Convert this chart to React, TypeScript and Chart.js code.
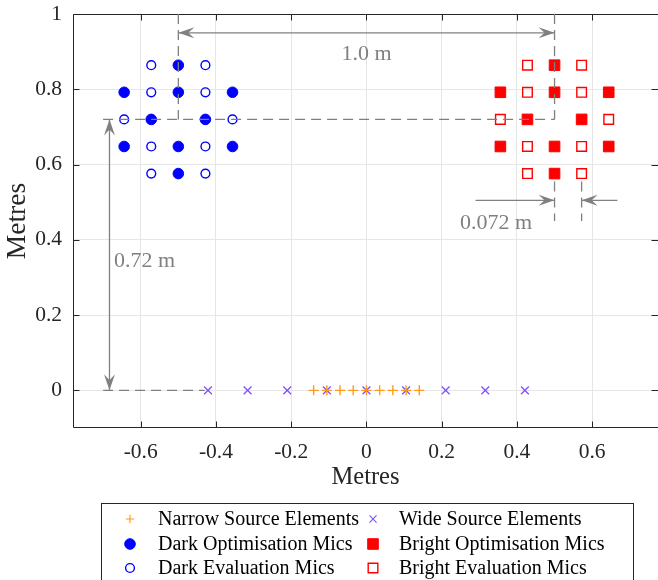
import React, { useEffect, useRef } from "react";
import { Chart, registerables } from "chart.js";

Chart.register(...registerables);

// ---------- data ----------
const narrowX = [-0.1404, -0.1053, -0.0702, -0.0351, 0, 0.0351, 0.0702, 0.1053, 0.1404];
const narrowY = [0, 0, 0, 0, 0, 0, 0, 0, 0];
const wideX = [-0.4212, -0.3159, -0.2106, -0.1053, 0, 0.1053, 0.2106, 0.3159, 0.4212];
const wideY = [0, 0, 0, 0, 0, 0, 0, 0, 0];

const darkOptX = [-0.5, -0.644, -0.5, -0.356, -0.572, -0.428, -0.644, -0.5, -0.356, -0.5];
const darkOptY = [0.864, 0.792, 0.792, 0.792, 0.72, 0.72, 0.648, 0.648, 0.648, 0.576];
const darkEvalX = [-0.572, -0.428, -0.572, -0.428, -0.644, -0.356, -0.572, -0.428, -0.572, -0.428];
const darkEvalY = [0.864, 0.864, 0.792, 0.792, 0.72, 0.72, 0.648, 0.648, 0.576, 0.576];

const brightOptX = [0.5, 0.356, 0.5, 0.644, 0.428, 0.572, 0.356, 0.5, 0.644, 0.5];
const brightOptY = [0.864, 0.792, 0.792, 0.792, 0.72, 0.72, 0.648, 0.648, 0.648, 0.576];
const brightEvalX = [0.428, 0.572, 0.428, 0.572, 0.356, 0.644, 0.428, 0.572, 0.428, 0.572];
const brightEvalY = [0.864, 0.864, 0.792, 0.792, 0.72, 0.72, 0.648, 0.648, 0.576, 0.576];

const xTicks = [-0.6, -0.4, -0.2, 0, 0.2, 0.4, 0.6];
const yTicks = [0, 0.2, 0.4, 0.6, 0.8, 1];
const xLimits = [-0.78, 0.775];
const yLimits = [-0.1, 1];
const axisTitle = "Metres";

// annotations, in data units
const dashedSegments = [
  [-0.5, 1, -0.5, 0.72],
  [0.5, 1, 0.5, 0.72],
  [-0.7, 0.72, 0.5, 0.72],
  [-0.7, 0, -0.43, 0],
  [0.5, 0.555, 0.5, 0.45],
  [0.572, 0.555, 0.572, 0.45],
];
const arrowSegments = [
  { from: [-0.5, 0.95], to: [0.5, 0.95], both: true },
  { from: [-0.683, 0.72], to: [-0.683, 0], both: true },
  { from: [0.29, 0.505], to: [0.5, 0.505], both: false },
  { from: [0.667, 0.505], to: [0.572, 0.505], both: false },
];
const annotationLabels = [
  { text: "1.0 m", x: 0, y: 0.878, align: "center" },
  { text: "0.72 m", x: -0.671, y: 0.328, align: "left" },
  { text: "0.072 m", x: 0.249, y: 0.43, align: "left" },
];

// ---------- styles ----------
const SERIF = "'Liberation Serif', 'Times New Roman', Times, serif";
const AXIS_COLOR = "#262626";
const GRID_COLOR = "#e6e6e6";
const ANNOT_COLOR = "#808080";
const BLUE = "#0000ff";
const RED = "#ff0000";
const ORANGE = "#ff9a1a";
const PURPLE = "#8050ff";

const pts = (xs: number[], ys: number[]) => xs.map((x, i) => ({ x, y: ys[i] }));

type MarkerStyle = { style: string; r: number; fill: string | null; stroke: string; lw: number };

const markerStyles: Record<string, MarkerStyle> = {
  narrow: { style: "cross", r: 5, fill: null, stroke: ORANGE, lw: 1.4 },
  wide: { style: "crossRot", r: 5.5, fill: null, stroke: PURPLE, lw: 1.3 },
  darkOpt: { style: "circle", r: 5.3, fill: BLUE, stroke: BLUE, lw: 1 },
  brightOpt: { style: "rect", r: 7.5, fill: RED, stroke: RED, lw: 1 },
  darkEval: { style: "circle", r: 4.4, fill: null, stroke: BLUE, lw: 1.4 },
  brightEval: { style: "rect", r: 6.8, fill: null, stroke: RED, lw: 1.4 },
};

const legendMarkerStyles: Record<string, MarkerStyle> = {
  narrow: { style: "cross", r: 4.2, fill: null, stroke: ORANGE, lw: 1.1 },
  wide: { style: "crossRot", r: 5, fill: null, stroke: PURPLE, lw: 1.1 },
  darkOpt: { style: "circle", r: 5.3, fill: BLUE, stroke: BLUE, lw: 1 },
  brightOpt: { style: "rect", r: 7.5, fill: RED, stroke: RED, lw: 1 },
  darkEval: { style: "circle", r: 4.4, fill: null, stroke: BLUE, lw: 1.4 },
  brightEval: { style: "rect", r: 6.8, fill: null, stroke: RED, lw: 1.4 },
};

function drawMarker(ctx: CanvasRenderingContext2D, m: MarkerStyle, x: number, y: number) {
  ctx.save();
  ctx.lineWidth = m.lw;
  ctx.strokeStyle = m.stroke;
  ctx.fillStyle = m.fill || "rgba(0,0,0,0)";
  ctx.beginPath();
  if (m.style === "circle") {
    ctx.arc(x, y, m.r, 0, Math.PI * 2);
  } else if (m.style === "rect") {
    const s = m.r * Math.SQRT1_2;
    ctx.rect(x - s, y - s, 2 * s, 2 * s);
  } else if (m.style === "cross") {
    ctx.moveTo(x - m.r, y);
    ctx.lineTo(x + m.r, y);
    ctx.moveTo(x, y - m.r);
    ctx.lineTo(x, y + m.r);
  } else if (m.style === "crossRot") {
    const d = m.r * Math.SQRT1_2;
    ctx.moveTo(x - d, y - d);
    ctx.lineTo(x + d, y + d);
    ctx.moveTo(x + d, y - d);
    ctx.lineTo(x - d, y + d);
  }
  if (m.fill) ctx.fill();
  ctx.stroke();
  ctx.restore();
}

function arrowHead(ctx: CanvasRenderingContext2D, tx: number, ty: number, ang: number) {
  const L = 16;
  const W = 5.5;
  const N = 10;
  const c = Math.cos(ang);
  const s = Math.sin(ang);
  const p = (a: number, b: number) => [tx - a * c + b * s, ty - a * s - b * c];
  const [x1, y1] = p(L, W);
  const [x2, y2] = p(N, 0);
  const [x3, y3] = p(L, -W);
  ctx.beginPath();
  ctx.moveTo(tx, ty);
  ctx.lineTo(x1, y1);
  ctx.lineTo(x2, y2);
  ctx.lineTo(x3, y3);
  ctx.closePath();
  ctx.fill();
}

const framePlugin = {
  id: "frame",
  beforeDatasetsDraw(chart: any) {
    const { ctx, chartArea: a, scales } = chart;
    const xs = scales.x;
    const ys = scales.y;
    ctx.save();
    ctx.strokeStyle = AXIS_COLOR;
    ctx.lineWidth = 1;
    const L = Math.round(a.left) + 0.5;
    const R = Math.round(a.right);
    const Rt = R - 1.5;
    const T = Math.round(a.top) + 0.5;
    const B = Math.round(a.bottom) - 0.5;
    ctx.beginPath();
    ctx.moveTo(R, T);
    ctx.lineTo(L, T);
    ctx.lineTo(L, B);
    ctx.lineTo(R, B);
    const tl = 6;
    xTicks.forEach((v) => {
      const px = Math.round(xs.getPixelForValue(v)) + 0.5;
      ctx.moveTo(px, B);
      ctx.lineTo(px, B - tl);
      ctx.moveTo(px, T);
      ctx.lineTo(px, T + tl);
    });
    yTicks.forEach((v) => {
      const py = Math.round(ys.getPixelForValue(v)) + 0.5;
      ctx.moveTo(L, py);
      ctx.lineTo(L + tl, py);
      ctx.moveTo(R, py);
      ctx.lineTo(Rt - tl + 1, py);
    });
    ctx.stroke();
    ctx.restore();
  },
};

const annotationPlugin = {
  id: "annotations",
  afterDatasetsDraw(chart: any) {
    const { ctx, scales } = chart;
    const X = (v: number) => scales.x.getPixelForValue(v);
    const Y = (v: number) => scales.y.getPixelForValue(v);
    ctx.save();
    ctx.strokeStyle = ANNOT_COLOR;
    ctx.fillStyle = ANNOT_COLOR;
    ctx.lineWidth = 1.3;
    ctx.setLineDash([10, 6]);
    dashedSegments.forEach(([x1, y1, x2, y2]) => {
      ctx.beginPath();
      ctx.moveTo(X(x1), Y(y1));
      ctx.lineTo(X(x2), Y(y2));
      ctx.stroke();
    });
    ctx.setLineDash([]);
    arrowSegments.forEach((a) => {
      const x1 = X(a.from[0]);
      const y1 = Y(a.from[1]);
      const x2 = X(a.to[0]);
      const y2 = Y(a.to[1]);
      ctx.beginPath();
      ctx.moveTo(x1, y1);
      ctx.lineTo(x2, y2);
      ctx.stroke();
      const ang = Math.atan2(y2 - y1, x2 - x1);
      arrowHead(ctx, x2, y2, ang);
      if (a.both) arrowHead(ctx, x1, y1, ang + Math.PI);
    });
    ctx.font = `22px ${SERIF}`;
    ctx.textBaseline = "alphabetic";
    annotationLabels.forEach((l) => {
      ctx.textAlign = l.align as CanvasTextAlign;
      ctx.fillText(l.text, X(l.x), Y(l.y));
    });
    ctx.restore();
  },
};

const legendOrder = [
  ["narrow", "darkOpt", "darkEval"],
  ["wide", "brightOpt", "brightEval"],
];

const legendPlugin = {
  id: "boxLegend",
  afterDraw(chart: any) {
    const { ctx } = chart;
    const box = { left: 101, top: 503, right: 633, bottom: 600 };
    const rowsY = [519, 544, 568];
    const markerX = [130, 373];
    const textX = [158, 399];
    ctx.save();
    ctx.fillStyle = "#ffffff";
    ctx.fillRect(box.left, box.top, box.right - box.left, box.bottom - box.top);
    ctx.strokeStyle = AXIS_COLOR;
    ctx.lineWidth = 1;
    ctx.strokeRect(box.left + 0.5, box.top + 0.5, box.right - box.left, box.bottom - box.top);
    ctx.font = `20px ${SERIF}`;
    ctx.textAlign = "left";
    ctx.textBaseline = "middle";
    legendOrder.forEach((col, ci) => {
      col.forEach((key, ri) => {
        const ds = chart.data.datasets.find((d: any) => d.key === key);
        drawMarker(ctx, legendMarkerStyles[key], markerX[ci], rowsY[ri]);
        ctx.fillStyle = "#000000";
        ctx.fillText(ds.label, textX[ci], rowsY[ri] + 1);
      });
    });
    ctx.restore();
  },
};

function makeDataset(key: string, label: string, data: { x: number; y: number }[]) {
  const m = markerStyles[key];
  return {
    key,
    label,
    data,
    showLine: false,
    pointStyle: m.style,
    pointRadius: m.r,
    pointHoverRadius: m.r,
    pointBorderWidth: m.lw,
    pointBorderColor: m.stroke,
    pointBackgroundColor: m.fill || "rgba(0,0,0,0)",
  };
}

const fmt = (v: number) => String(Math.round(v * 10) / 10);

const zeroPadding = (s: any) => {
  s.paddingTop = 0;
  s.paddingBottom = 0;
  s.paddingLeft = 0;
  s.paddingRight = 0;
};

export default function App() {
  const ref = useRef<HTMLCanvasElement | null>(null);
  useEffect(() => {
    if (!ref.current) return;
    const chart = new Chart(ref.current, {
      type: "scatter",
      data: {
        datasets: [
          makeDataset("narrow", "Narrow Source Elements", pts(narrowX, narrowY)),
          makeDataset("wide", "Wide Source Elements", pts(wideX, wideY)),
          makeDataset("darkOpt", "Dark Optimisation Mics", pts(darkOptX, darkOptY)),
          makeDataset("brightOpt", "Bright Optimisation Mics", pts(brightOptX, brightOptY)),
          makeDataset("darkEval", "Dark Evaluation Mics", pts(darkEvalX, darkEvalY)),
          makeDataset("brightEval", "Bright Evaluation Mics", pts(brightEvalX, brightEvalY)),
        ] as any,
      },
      options: {
        animation: false,
        responsive: false,
        events: [],
        layout: { autoPadding: false, padding: { top: 14, right: 0, left: 0, bottom: 0 } },
        plugins: { legend: { display: false }, tooltip: { enabled: false } },
        scales: {
          x: {
            type: "linear",
            min: xLimits[0],
            max: xLimits[1],
            afterBuildTicks: (s: any) => {
              s.ticks = xTicks.map((v) => ({ value: v }));
            },
            afterFit: (s: any) => {
              s.height = 152;
              zeroPadding(s);
            },
            grid: { color: GRID_COLOR, lineWidth: 1, drawTicks: false },
            border: { display: false },
            ticks: {
              color: AXIS_COLOR,
              font: { family: SERIF, size: 21.5 },
              padding: 11.5,
              maxRotation: 0,
              autoSkip: false,
              callback: (v: any) => fmt(Number(v)),
            },
            title: {
              display: true,
              text: axisTitle,
              color: AXIS_COLOR,
              font: { family: SERIF, size: 24.5 },
              padding: { top: 0, bottom: 87.5 },
            },
          },
          y: {
            type: "linear",
            min: yLimits[0],
            max: yLimits[1],
            afterBuildTicks: (s: any) => {
              s.ticks = yTicks.map((v) => ({ value: v }));
            },
            afterFit: (s: any) => {
              s.width = 73;
              zeroPadding(s);
            },
            grid: { color: GRID_COLOR, lineWidth: 1, drawTicks: false },
            border: { display: false },
            ticks: {
              color: AXIS_COLOR,
              font: { family: SERIF, size: 21.5 },
              padding: 11,
              autoSkip: false,
              callback: (v: any) => fmt(Number(v)),
            },
            title: {
              display: true,
              text: axisTitle,
              color: AXIS_COLOR,
              font: { family: SERIF, size: 27.5 },
              padding: { top: 1, bottom: 0 },
            },
          },
        },
      } as any,
      plugins: [framePlugin, annotationPlugin, legendPlugin],
    });
    return () => chart.destroy();
  }, []);
  return (
    <div style={{ position: "absolute", left: 0, top: 0, width: 658, height: 580, background: "#fff" }}>
      <canvas ref={ref} width={658} height={580} style={{ display: "block" }} />
    </div>
  );
}
